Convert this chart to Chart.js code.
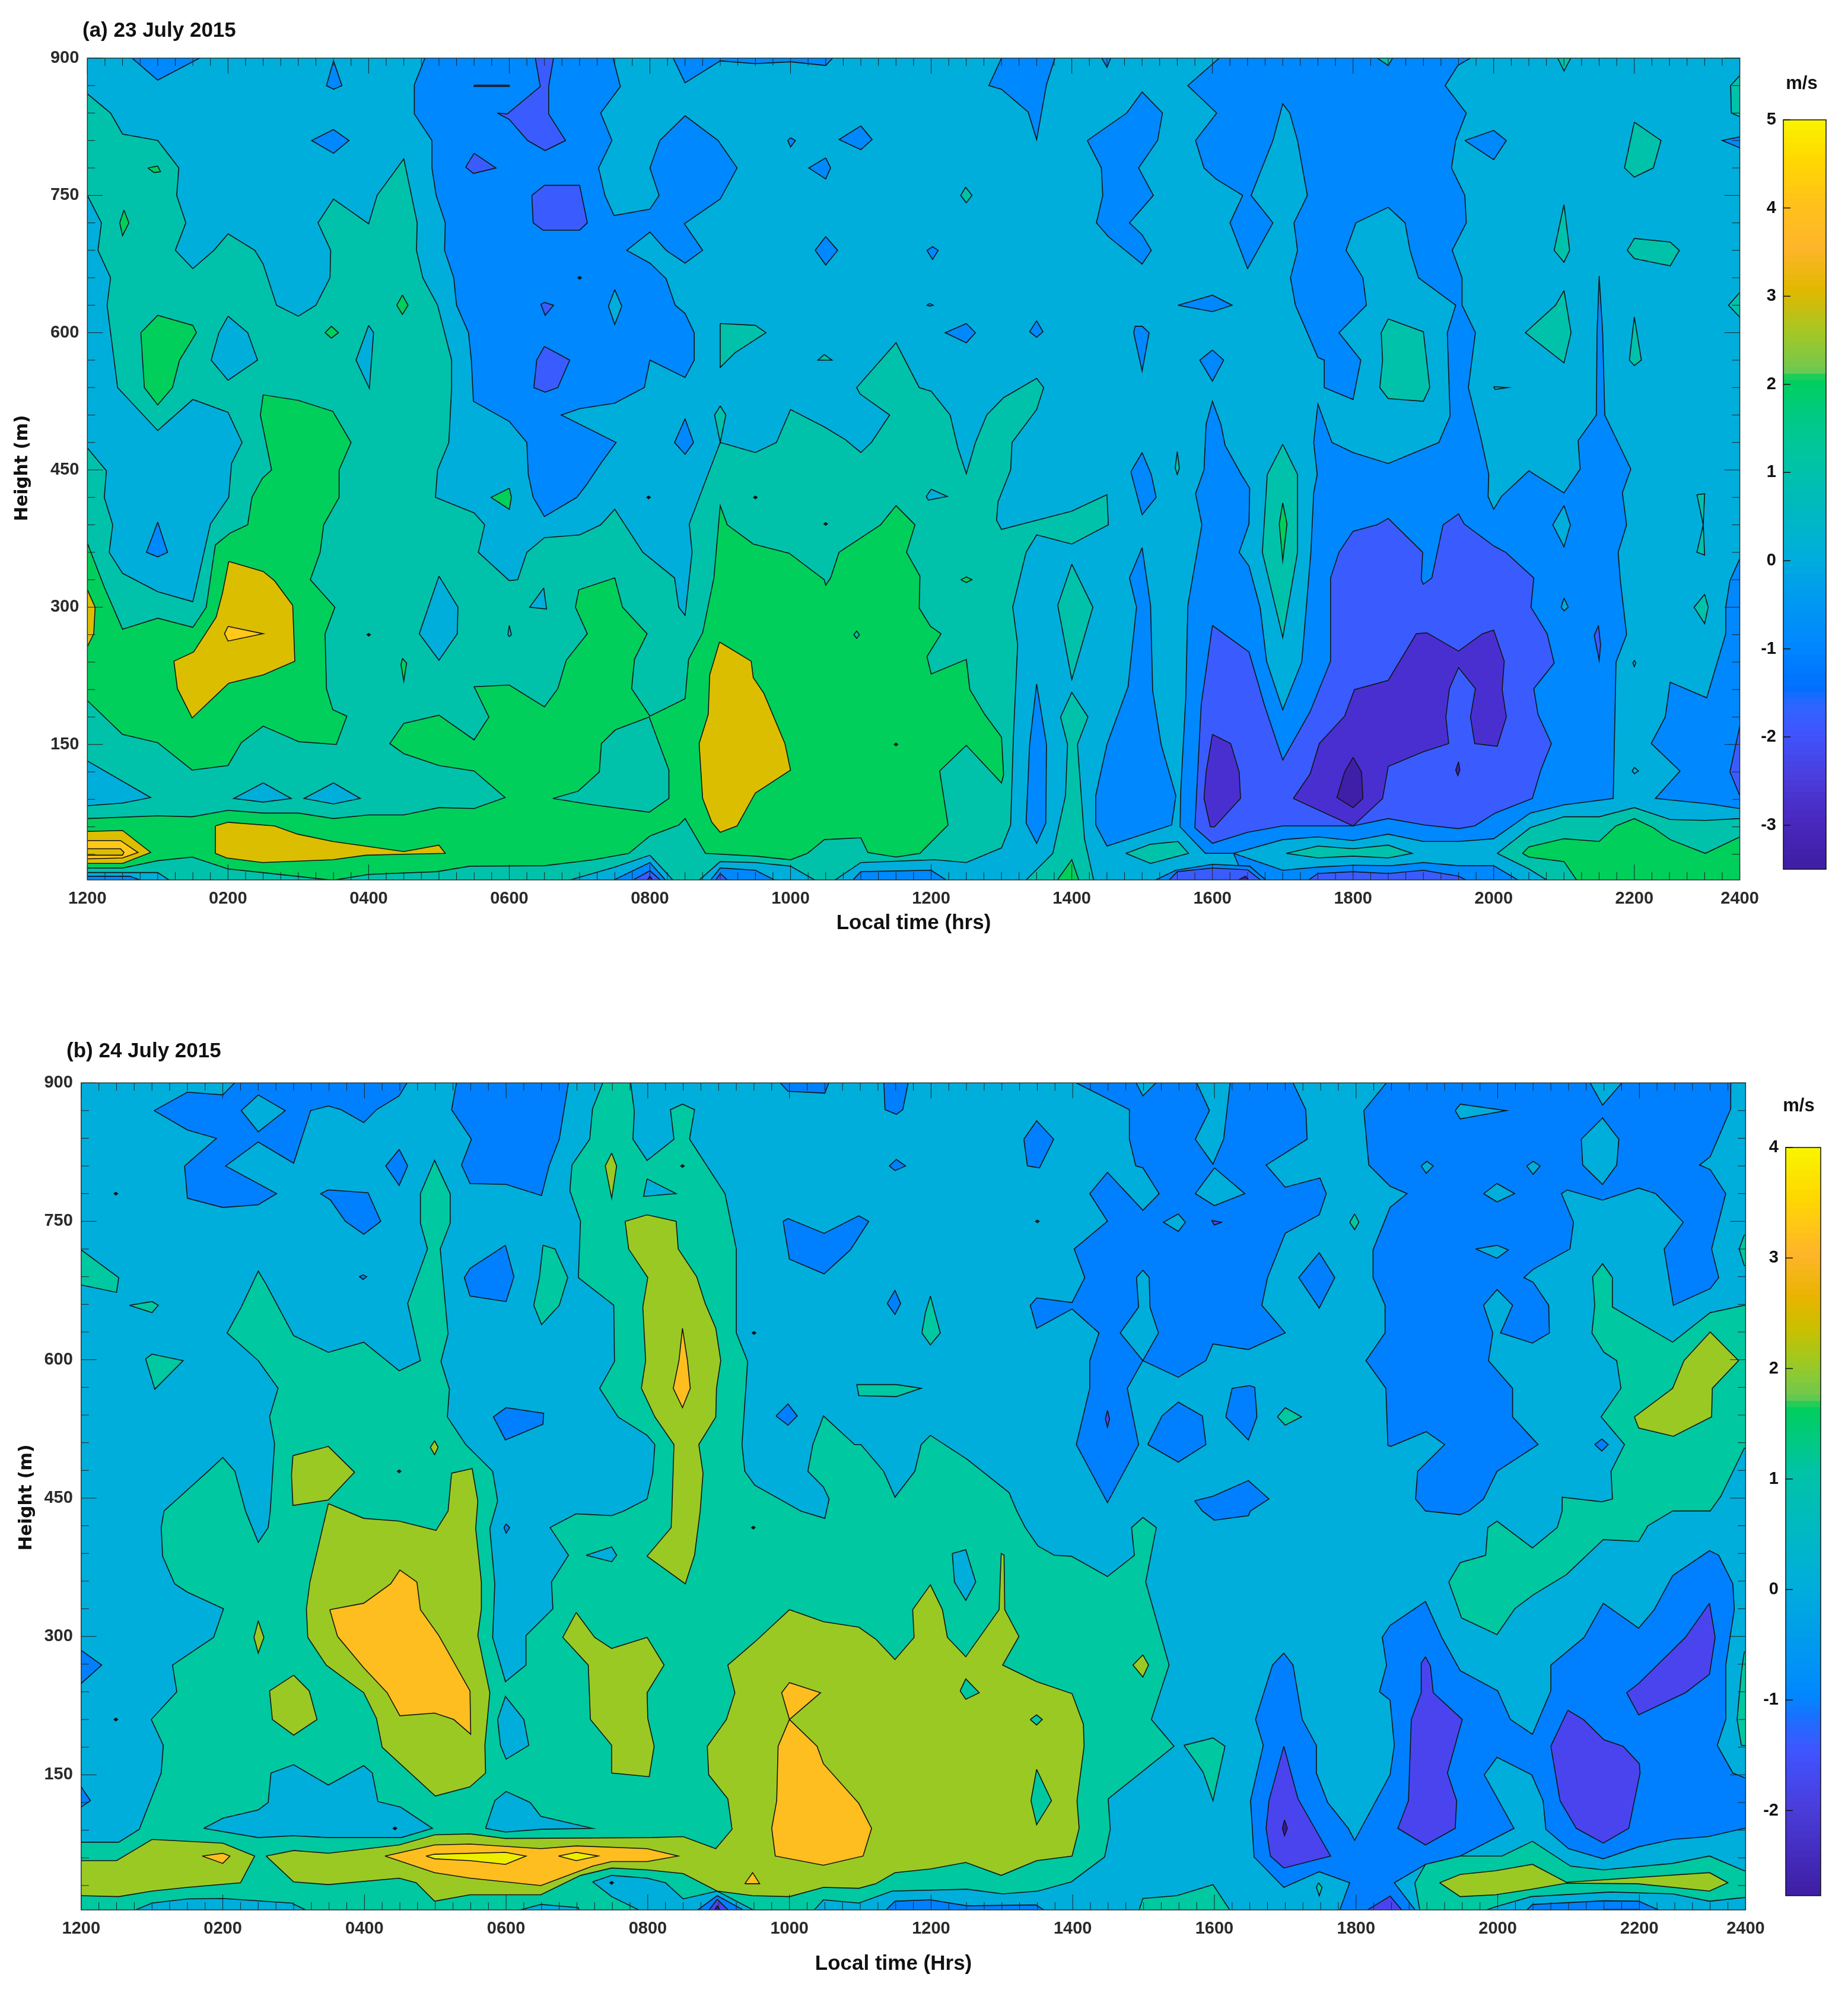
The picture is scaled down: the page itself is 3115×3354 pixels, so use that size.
<!DOCTYPE html>
<html>
<head>
<meta charset="utf-8">
<title>Vertical velocity</title>
<script src="https://cdn.jsdelivr.net/npm/chart.js@4"></script>
<style>
html, body { margin: 0; background: #fff; }
canvas { position: absolute; }
</style>
</head>
<body>
<canvas id="panelA"></canvas>
<canvas id="barA"></canvas>
<canvas id="panelB"></canvas>
<canvas id="barB"></canvas>
<script>
// tick labels
const timeTickHours = [0, 2, 4, 6, 8, 10, 12, 14, 16, 18, 20, 22, 23.5];
const timeTickLabels = ['1200', '0200', '0400', '0600', '0800', '1000', '1200', '1400', '1600', '1800', '2000', '2200', '2400'];
const heightLabelValues = [150, 300, 450, 600, 750, 900];

// the whole plot starts in the 0 to -1 m/s band
const fullArea = [[-1,-20,25,-20,25,920,-1,920]];

// contour outlines, panel (a): flat lists of hours, metres, hours, metres ...
const aTeal = [
[-1,861,0,861,.33,840,.5,817,1,810,1.3,780,1.27,750,1.4,720,1.25,690,1.5,670,1.8,690,2,708,2.38,690,2.5,675,2.69,630,3,618,3.25,630,3.45,660,3.46,690,3.28,720,3.5,746,4,719,4.12,750,4.5,790,4.69,720,4.68,690,4.77,660,4.98,630,5.18,570,5.18,540,5.14,480,4.98,450,4.95,420,5.5,403,5.65,390,5.56,360,6,329,6.12,330,6.25,360,6.5,376,7,379,7.3,390,7.5,407,7.9,360,8.35,332,8.41,300,8.5,291,8.6,360,8.56,391,8.85,450,9,480,9.5,469,9.8,480,10,516,10.48,497,10.78,483,11,469,11.15,480,11.41,510,10.99,533,10.94,540,11.5,589,11.83,540,12,536,12.27,510,12.38,474,12.5,446,12.63,480,12.79,510,13.03,529,13.5,550,13.6,540,13.5,516,13.15,480,13.13,450,12.95,415,12.93,395,13,385,14,405,14.5,423,14.52,390,14,369,13.5,379,13.35,360,13.16,300,13.23,259,13.17,160,13.13,62,13,37,12.5,21,12.05,24,11,21,10.5,-5,10,17,9.5,21,9,22,8.6,-5,8.41,-5,8,29,7.5,16,6.55,-5,1.3,-5,1,10,0,10,-1,10],
[13.26,-5,13.73,31,13.91,94,13.94,150,13.84,180,14,207,14.23,180,14.08,150,14.18,47,14.33,-5]
];
const aCyanInTeal = [
[-1,750,0,750,.2,720,.15,690,.33,660,.28,630,.43,540,1,493,1.5,527,2,513,2.2,480,2.05,457,2.01,420,1.75,391,1.5,306,1,317,.5,337,.31,360,.36,390,.24,420,.27,449,0,474,-1,474],
[2,618,2.28,600,2.42,570,2,548,1.76,570,1.87,600],
[4,608,4.07,600,4.01,539,3.82,570],
[5,334,5.27,300,5.26,271,5,242,4.72,271],
[6.49,321,6.53,298,6.29,300],
[6,280,6.03,270,6,268,5.98,270],
[-1,132,0,132,.9,92,.5,86,0,83,-1,83],
[2.5,108,2.9,91,2.5,87,2.08,91],
[3.5,108,3.88,91,3.5,85,3.08,91],
[12,429,12.23,421,11.96,417,11.93,421]
];
const aGreen = [
[-1,370,0,370,.24,322,.5,276,1,288,1.5,278,1.69,300,1.82,368,2.03,381,2.28,390,2.34,420,2.49,441,2.62,450,2.46,510,2.5,532,3,526,3.49,514,3.75,480,3.58,450,3.58,420,3.36,390,3.31,360,3.17,330,3.52,300,3.38,271,3.4,211,3.49,188,3.69,181,3.54,150,3.01,153,2.5,170,2.19,152,2,127,1.49,122,1,152,.5,161,0,198,-1,198],
[-1,69,0,69,1,72,1.49,71,2,78,2.5,75,3,75,3.5,69,4,73,4.5,73,5,81,5.5,80,5.94,92,5.5,121,5,127,4.5,140,4.3,151,4.5,173,5,182,5.5,155,5.71,180,5.5,213,6,215,6.5,191,6.69,211,6.81,242,7.11,271,6.94,300,6.99,319,7.5,332,7.61,300,7.96,271,7.78,243,7.74,211,8,181,8.5,200,8.55,243,8.75,272,8.91,332,9,411,9.1,390,9.47,369,9.98,359,10.48,330,10.5,324,10.57,332,10.69,360,11.28,390,11.5,411,11.77,390,11.65,360,11.84,334,11.83,299,11.99,279,12.14,271,11.94,246,12,227,12.5,243,12.55,210,12.76,183,13,158,13.03,117,13,108,12.5,149,12.12,121,12.24,62,11.84,31,11.5,27,11.1,32,11,48,10.48,46,10.24,31,10,24,9.5,28,8.79,31,8.5,69,8.41,62,8,50,7.7,31,7.2,24,6.5,17.5,5.44,17,4.97,11,4,8,3.49,1.6,2.49,10,2,14,1.49,27,1,23,.5,15,0,15,-1,15],
[.76,600,1,619,1.5,608,1.55,600,1.31,570,1.21,540,1,521,.81,540],
[.52,734,.59,720,.5,706,.46,720],
[.86,780,1,782,1.04,776,.95,775],
[3.47,607,3.57,600,3.47,594,3.38,600],
[4.48,641,4.56,630,4.48,620,4.4,630],
[6,430,6.03,420,6,407,5.74,420],
[4.48,244,4.54,239,4.5,219,4.46,237],
[12.42,330,12.5,333,12.58,330,12.5,327]
];
const aTealInGreen = [
[6.62,91,6.98,99,7.28,120,7.31,151,7.51,166,7.99,180,8.27,122,8.27,91,7.99,76,7.19,84],
[10.94,274,10.98,270,10.94,266,10.9,270]
];
const aGold = [
[2.01,350,2.5,339,2.66,329,2.92,302,2.95,241,2.5,226,2.01,217,1.86,206,1.49,179,1.28,211,1.23,241,1.51,251,1.83,289,1.92,315],
[-1,319,0,319,.11,300,.09,271,0,257,-1,257],
[1.82,61,2,65,2.66,61,2.99,52,3.49,44,4.5,33,5,40,5.09,31,4.5,30,3.96,29,3.49,24,2.49,21,1.98,26,1.82,31],
[-1,55,0,55,.5,56,.9,32,.5,20,0,20,-1,20],
[8.99,262,9.44,241,9.47,223,9.62,206,9.92,151,10,122,9.5,97,9.24,61,9,54,8.88,65,8.75,91,8.7,151,8.83,183,8.85,226]
];
const aYellow = [
[2,279,2.5,271,2,263,1.95,271],
[-1,45,0,45,.47,45,.72,32,.5,26,0,25,-1,25]
];
const aGoldCore = [
[-1,36,.47,36,.52,32,.5,29,-1,29]
];
const aBlue = [
[.56,905,1,876,1.72,905],
[3.5,897,3.62,870,3.5,866,3.4,870],
[3.5,822,3.72,810,3.5,796,3.19,810],
[1,393,1.14,360,1,355,.84,360],
[4.8,905,4.8,900,4.65,871,4.65,839,4.9,810,4.9,780,4.96,750,5.09,720,5.08,690,5.21,660,5.25,630,5.42,600,5.46,570,5.49,525,6,503,6.25,480,6.27,445,6.34,420,6.5,399,6.96,420,7.1,434,7.3,457,7.52,480,6.74,510,7,517,7.5,523,7.92,540,8,570,8.5,551,8.63,570,8.63,600,8.5,621,8.36,630,8.23,659,8,676,7.67,690,8,710,8.23,690,8.5,676,8.75,690,8.49,719,9,746,9.24,780,8.97,810,8.5,837,8.14,810,8,780,8.13,750,8,735,7.49,728,7.36,750,7.27,780,7.46,810,7.3,840,7.58,869,7.46,905],
[8.3,905,8.5,873,9,897,9.5,894,10,896,10.5,892,10.66,905],
[10,813,10.07,810,10,803,9.96,810],
[11,826,11.16,811,11,800,10.69,811],
[10.5,791,10.57,780,10.5,768,10.26,780],
[10.5,705,10.67,690,10.5,674,10.35,690],
[12.02,694,12.1,690,12.02,680,11.94,690],
[11.98,632,12.03,630,11.98,629,11.94,630],
[12.5,610,12.63,600,12.5,589,12.2,600],
[13.5,613,13.59,601,13.5,595,13.4,601],
[8.5,506,8.62,480,8.5,467,8.35,480],
[13.03,905,12.82,870,13,866,13.38,841,13.5,811,13.64,871,13.78,905],
[14.39,905,14.5,890,14.58,905],
[14.22,810,14.78,840,15,863,15.29,840,15.22,810,14.95,780,15.16,750,14.82,720,15,707,15.13,690,15,675,14.52,705,14.35,720,14.44,750,14.42,780],
[15,365,15.12,302,15.15,209,15.27,150,15.48,94,15.42,62,14.5,39,14.34,62,14.34,94,14.5,150,14.8,213,14.92,300,14.82,332],
[15,469,15.13,445,15.2,420,15,401,14.84,448],
[13.5,216,13.64,150,13.63,64,13.5,42,13.35,64,13.4,150],
[15.51,630,16,641,16.28,630,16,623],
[16,581,16.16,570,16,547,15.82,570],
[14.9,607,15,607,15.1,600,15,558,14.88,600],
[19.59,810,20,821,20.18,810,20,789],
[24,814,23.5,814,23.25,810,23.5,802,24,802],
[24,353,23.5,353,23.36,329,23.3,300,23.3,271,23.03,201,22.51,218,22.44,180,22.24,151,22.65,121,22.3,91,23.07,85,23.5,80,24,80],
[16.17,905,15.65,870,16.06,840,15.76,810,15.88,780,16.05,768,16.43,750,16.25,720,16.5,670,16.86,720,16.55,750,16.86,810,17,850,17.1,840,17.21,810,17.35,750,17.16,720,17.21,690,17.11,660,17.18,630,17.5,573,17.59,570,17.59,540,18,527,18.11,570,17.8,600,18.19,630,18.14,660,17.9,690,18.04,720,18.5,737,18.74,720,18.81,690,18.93,660,19.46,630,19.34,600,19.38,509,19.22,480,18.5,457,18,469,17.7,480,17.5,522,17.44,480,17.49,445,17.44,425,17.4,360,17.27,240,17,188,16.77,241,16.68,299,16.52,345,16.38,360,16.52,391,16.53,430,16.41,445,16.18,477,16.12,500,16,525,15.91,500,15.88,450,15.76,424,15.85,390,15.65,302,15.62,200,15.55,100,15.54,60,15.9,31,16.3,31,17,46,17.5,49,18,45,18.5,52,19,44,19.5,44,20,47,20.52,75,21,84,21.7,91,21.74,240,21.89,270,21.8,330,21.77,360,21.89,390,21.83,425,21.95,451,21.58,510,21.55,600,21.5,662,21.47,600,21.46,510,21.2,482,21.23,451,21,425,20.5,449,20.11,421,20,407,19.92,421,19.93,445,19.82,484,19.64,540,19.74,600,19.55,630,19.55,660,19.41,690,19.61,720,19.59,750,19.4,780,19.46,810,19.61,840,19.31,870,19.49,892,19.78,905],
[16.3,31,17,12.5,17.5,16,18,18,18.54,17.5,19,21,19.5,17.5,20,17.5,20.5,-5,16.5,-5],
[15,-5,15.48,12.5,16,19,16.53,17,16.86,-5],
[7.3,-5,8,21,8.3,-5],
[8.79,-5,9,15,9.5,12.5,9.95,-5],
[10.8,-5,11,11,12,12.5,12.35,-5],
[-1,6,.6,6,1,-5,-1,-5]
];
const aCyanInBlue = [
[7.5,647,7.6,629,7.5,609,7.41,629],
[21,411,21.09,390,21,366,20.84,390],
[21,310,21.06,300,21,296,20.96,300],
[22,242,22.02,239,22,235,21.98,239],
[22,125,22.06,121,22,118,21.97,121]
];
const aTealIslands = [
[12.49,759,12.58,750,12.5,742,12.42,750],
[9,610,9.5,608,9.65,600,9.21,578,9,562],
[10.48,576,10.59,570,10.39,570],
[9,520,9.08,510,9,480,8.92,510],
[20.88,905,21,886,21.13,905],
[22,830,22.38,810,22.27,780,22,770,21.86,780],
[21,740,21.08,690,21,677,20.86,690],
[22,703,22.51,699,22.64,690,22.51,673,22,681,21.9,690],
[21,646,21.1,600,21,567,20.45,600,20.88,630],
[22,617,22.1,570,22,564,21.93,570],
[18.5,615,19,601,19.09,540,19,525,18.5,528,18.38,540,18.42,570,18.4,600],
[18.25,905,18.5,892,18.6,905],
[17,478,17.21,445,17.21,360,17,267,16.71,360,16.78,445],
[24,881,23.5,881,23.37,870,23.38,840,23.5,836,24,836],
[24,644,23.5,644,23.34,630,23.5,617,24,617],
[22.89,423,23,424,22.98,390,23,357,22.89,360,22.98,390],
[23,314,23.05,300,23,282,22.85,300],
[20,541,20.2,540,20.02,538],
[14,347,14.3,300,14,221,13.8,302],
[15.5,470,15.53,452,15.5,445,15.47,452],
[14.77,31,15.12,41,15.51,44,15.66,31,15.12,20],
[17.05,31,17.5,39,18,36,18.5,40,18.84,31,18.5,26,18,28,17.5,26],
[20.05,31,20.52,59,21,71,21.5,71,22,81,22.51,68,23.01,67,23.5,69,24,69,24,-5,20.9,-5,20.5,14]
];
const aGreenIslands = [
[17,414,17.06,391,17,351,16.95,391],
[13.73,-5,14,24,14.13,-5],
[20.41,31,20.5,38,21,47,21.5,44,21.74,61,22,69,22.27,59,22.51,46,23.01,31,23.5,49,24,49,24,-5,21.24,-5,21,22,20.5,27]
];
const aIndigo = [
[5.83,840,5.97,839,6.44,869,6.36,905,6.64,905,6.56,869,6.56,839,6.8,810,6.51,799,6.26,810,6,833],
[5.5,796,5.81,780,5.49,774,5.38,781],
[6.5,761,7,761,7.11,720,7,712,6.48,712,6.34,720,6.32,750],
[6.5,633,6.63,630,6.51,619,6.45,631],
[6.5,585,6.86,570,6.69,540,6.51,535,6.35,540,6.39,570],
[16,280,16.52,251,16.74,193,17,133,17.39,186,17.68,241,17.68,332,17.8,360,18,383,18.34,390,18.5,397,18.99,360,18.97,330,19,325,19.12,332,19.28,390,19.5,402,19.58,391,20,367,20.17,360,20.57,332,20.53,300,20.76,271,20.86,239,20.57,211,20.63,183,20.82,151,20.67,122,20.55,91,20.02,75,19.73,61,19.5,58,19.02,62,18.5,69,18,61,17.5,61,17,61,16.5,54,16,42,15.75,59,15.84,193],
[21.49,280,21.52,259,21.5,242,21.43,269],
[24,170,23.5,170,23.36,120,23.5,94,24,94],
[7.6,-5,8,12,8.25,-5],
[8.88,-5,9,9,9.2,-5],
[15.3,-5,15.5,11,16,15,16.5,13,16.8,-5],
[17.24,-5,17.5,9,18,11,18.5,9,19,12.5,19.5,6,19.78,-5]
];
const aViolet = [
[16,161,16.26,151,16.38,120,16.4,91,16.03,60,15.97,60,15.88,91,15.91,120],
[17.15,91,17.39,118,17.52,151,17.88,181,18.02,210,18.5,220,18.9,271,19.05,272,19.5,252,19.84,271,20,275,20.15,241,20.12,210,20.18,180,20.05,148,19.73,151,19.67,180,19.74,211,19.5,234,19.37,211,19.32,180,19.36,151,19,142,18.5,126,18.42,91,18,61],
[8,6,8.1,-5,7.9,-5]
];
const aVioletSpot = [
[19.5,131,19.52,122,19.49,116,19.46,122],
[18,136,18.12,120,18.14,91,18,81,17.77,92,17.88,120],
[16.2,-5,16.47,6,16.59,-5],
[5.5,870.5,6,870.5,6,869,5.5,869]
];
// very small closed contours, hours and metres of each centre
const aSpecks = [[4,270],[7,660],[7.98,420],[9.5,420],[10.5,391],[11.5,150]];

// contour outlines, panel (b)
const bTeal = [
[-1,-20,-1,77,0,77,.53,77,.82,91,1.13,152,1.16,182,.99,210,1.35,240,1.29,269,1.87,299,2.01,330,1.5,348,1.32,357,1.15,387,1.13,418,1.17,436,1.79,479,2,494,2.17,479,2.32,436,2.5,402,2.64,418,2.67,436,2.73,509,2.66,538,2.78,569,2.5,599,2.06,629,2.26,657,2.5,696,2.61,682,3,626,3.49,608,3.99,619,4.49,588,4.79,599,4.61,661,4.89,720,4.79,748,4.79,780,4.99,816,5.21,780,5.21,748,5.07,720,5.18,628,5.08,598,5.2,568,5.17,538,5.43,508,5.81,479,5.88,447,5.84,436,5.77,417,5.84,357,5.81,299,5.99,251,6.28,269,6.28,301,6.66,330,6.64,359,6.88,388,6.62,418,6.99,433,7.49,431,7.66,436,7.99,449,8.07,477,8.1,508,7.99,518,7.58,538,7.32,569,7.53,598,7.52,659,7.02,689,7.05,750,6.9,783,6.93,811,7.18,839,7.22,872,7.39,905,7.75,905,7.81,869,7.79,839,7.99,816,8.37,839,8.32,871,8.49,877,8.66,871,8.59,839,9.09,780,9.25,720,9.25,629,9.41,598,9.33,508,9.37,479,9.51,464,10.16,436,10.5,428,10.56,449,10.48,462,10.26,479,10.33,508,10.48,539,10.92,508,11.01,508,11.33,479,11.49,451,11.77,479,11.86,508,11.99,518,12.51,492,13.1,456,13.21,436,13.33,418,13.51,398,13.74,388,13.98,387,14.49,365,14.87,388,14.83,418,14.99,429,15.18,418,15.03,359,15.36,269,15.11,210,15.43,181,14.5,124,14.53,91,14.45,61,13.98,34,13.51,24,13.01,21,12.51,26,11.45,24,10.98,11,10.48,14.5,10.25,-5,10,-20],
[14.9,-5,14.99,16,15.47,19,15.98,31,16.29,-5],
[19.31,359,19.47,380,19.83,388,19.86,418,19.99,425,20.49,396,20.84,418,20.91,436,20.91,451,21.47,446,21.62,449,21.6,479,21.79,508,21.46,538,21.74,569,21.68,599,21.5,608,21.33,629,21.37,659,21.34,690,21.48,704,21.62,689,21.62,657,22.47,619,23,651,23.48,659,24,659,24,504,23.48,504,23.15,452,23,436,22.47,436,22.12,420,21.99,403,21.49,405,20.97,367,20.5,345,20.24,330,19.99,302,19.49,320]
];
const bCyanInTeal = [
[12.3,390,12.49,394,12.63,359,12.49,339,12.33,359],
[7.13,388,7.49,397,7.56,388,7.49,381],
[5.88,210,5.99,235,6.25,210,6.32,182,6,167,5.92,182],
[1.73,92,2,103,2.5,112,2.64,120,2.68,152,3,161,3.49,139,3.99,160,4.11,152,4.19,121,4.51,115,4.96,92,4.52,82,3.49,82,2.99,84,2.5,82],
[5.71,92,5.84,122,6,132,6.34,120,6.49,105,7.22,92,6.49,91,5.99,88],
[.5,-5,1,11,1.5,15.5,2,16,2.97,11,3.4,-5],
[5.78,-5,6.49,9.5,7.02,6,7.05,-5],
[7.22,34,7.49,41,7.99,38,8.25,33,8.5,15.5,8.98,24,9.7,-5,8.1,-5,7.49,18]
];
const bOlive = [
[2.99,496,3.49,506,3.86,478,3.49,448,2.99,442,2.97,475],
[3.49,444,3.99,428,4.49,425,5.01,415,5.18,436,5.23,477,5.52,482,5.6,447,5.57,417,5.65,359,5.65,330,5.6,301,5.77,239,5.7,182,5.71,152,5.49,137,5,127,4.25,180,4.17,211,3.99,239,3.46,269,3.2,299,3.18,330,3.23,359],
[4.99,512,5.04,505,4.99,497,4.93,505],
[2.5,317,2.58,299,2.5,282,2.44,299],
[3,258,3.22,241,3.33,210,3,193,2.7,210,2.66,241],
[6.99,326,7.25,299,7.49,287,7.99,299,8.23,269,7.99,239,8,211,8.09,181,8.02,148,7.49,152,7.49,182,7.19,210,7.16,269,6.8,299],
[7.68,750,7.99,757,8.4,750,8.43,720,8.69,690,8.81,661,8.96,634,9.03,599,8.97,569,8.96,538,8.72,508,8.78,477,8.74,436,8.66,388,8.53,357,7.99,387,8.33,418,8.34,436,8.37,508,8.1,538,7.91,569,7.97,599,7.93,657,8,689,7.73,720],
[7.49,824,7.56,810,7.49,775,7.4,810],
[-1,57,0,57,.5,57,1,80,2,76,2.45,62,2.25,33,1.5,28,1,24,.53,18,0,19,-1,19],
[2.61,62,3,68,3.49,65,4.49,74,4.99,85,5.49,86,5.99,81,8.06,82,8.5,83,8.96,70,9.19,91,9.13,124,8.86,150,8.84,181,9.11,210,9.23,239,9.13,269,9.51,294,10,329,10.48,316,10.98,310,11.22,297,11.49,275,11.76,299,11.74,329,11.99,356,12.16,329,12.23,299,12.49,278,12.96,329,12.99,390,13.03,388,13.04,329,13.24,300,13.01,269,13.49,251,13.99,238,14.15,205,14.16,181,14.06,122,14.09,92,13.99,62,13.49,57,12.99,41,12.49,55,11.99,48,11.49,44,11.22,32,10.98,27,10.48,28,10,18,9.48,19,8.98,24,8.5,43,7.99,47,7.49,49,7.05,41,6.49,20,5.49,20,4.99,13,4.73,33,4.49,38,3.49,31,3,34],
[14.99,280,15.07,269,14.99,256,14.85,269],
[21.93,538,22.47,569,22.63,599,23,630,23.4,599,23.03,569,23.02,538,22.48,517,21.99,526]
];
const bTealInOlive = [
[12.41,241,12.49,254,12.68,239,12.49,232],
[13.4,210,13.49,215,13.57,210,13.49,204],
[13.49,156,13.7,122,13.49,96,13.41,122]
];
const bOrange = [
[3.51,329,3.99,336,4.37,357,4.5,372,4.74,359,4.79,329,5.05,301,5.49,241,5.5,194,5.26,210,4.99,217,4.5,214,4.32,239,3.99,266,3.62,300],
[8.49,634,8.56,599,8.6,569,8.49,548,8.36,569,8.44,599],
[4.29,62,4.99,74,5.49,75,6.49,70,6.99,73,7.99,70,8.43,62,7.99,56,7.49,56,7.22,51,6.49,30,5.49,38,4.99,44],
[1.71,62,2,65,2.1,62,2,54],
[9.37,32,9.48,44,9.58,32],
[10,210,10.39,181,10.48,162,10.98,119,11.16,92,11.04,62,10.48,52,9.8,62,9.75,92,9.82,122,9.84,181],
[10,210,9.89,239,10,250,10.44,239]
];
const bYellow = [
[4.87,62,4.99,64,5.99,66,6.28,62,5.99,53,5.49,57,4.99,59],
[6.74,62,6.99,66,7.3,62,6.99,57]
];
const bBlue = [
[-1,285,0,285,.29,269,0,249,-1,249],
[-1,137,0,137,.13,122,0,115,-1,115],
[1.03,870,1.5,890,2,887,2.23,905,4.64,905,4.49,886,4.17,871,3.99,857,3.67,871,3.49,875,3.24,870,3,813,2.5,836,2.04,810,2.76,780,2.5,768,2,765,1.5,775,1.46,810,1.91,840,1.5,849],
[4.49,828,4.61,810,4.49,789,4.3,810],
[3.49,784,4.05,781,4.23,750,3.99,736,3.73,750,3.52,773,3.38,780],
[5.31,905,5.23,871,5.51,839,5.37,811,5.49,791,6,790,6.5,778,6.61,811,6.75,839,6.89,905],
[5.99,724,6.11,690,6,663,5.49,669,5.41,689,5.49,699],
[6,548,6.53,542,6.52,530,5.99,513,5.82,538],
[3.98,692,4.03,690,3.98,687,3.93,690],
[9.81,905,9.98,891,10.5,889,10.58,905],
[11.33,905,11.35,871,11.51,866,11.6,871,11.69,905],
[13.31,839,13.49,859,13.73,839,13.53,808,13.36,810],
[9.91,750,9.98,753,10.49,737,10.98,756,11.12,750,10.86,719,10.49,693,10,709],
[9.81,539,9.98,552,10.11,539,9.98,529],
[11.38,661,11.49,675,11.57,661,11.49,649],
[11.41,810,11.51,817,11.64,810,11.49,805],
[6,422,6.05,418,6,412,5.97,418],
[13.92,905,14.8,871,14.8,839,14.89,810,14.99,808,15.22,780,14.99,762,14.49,803,14.24,780,14.49,750,14.02,720,14.17,689,13.99,662,13.49,667,13.4,659,13.49,634,13.99,655,14.37,629,14.24,599,14.24,569,14.05,508,14.49,445,14.93,508,14.77,569,14.99,599,15.49,581,15.88,599,15.98,617,16.48,611,17,629,16.67,659,16.75,689,17,737,17.48,757,17.58,780,17.49,797,17,787,16.73,811,17.31,839,17.29,871,17.08,905],
[17.48,716,17.7,689,17.48,656,17.19,689],
[15.06,508,15.26,539,15.49,554,15.83,539,15.88,508,15.49,489],
[16.16,538,16.25,569,16.5,572,16.57,570,16.6,538,16.48,513],
[15.72,447,15.98,452,16.48,469,16.77,449,16.51,436,16.48,431,16,426,15.83,436],
[18.48,905,18.11,870,18.18,811,18.48,788,18.72,780,18.48,765,18.24,719,18.24,689,18.41,659,18.41,629,18.14,599,18.42,569,18.45,507,18.49,506,18.99,522,19.25,508,18.87,479,18.84,449,18.98,436,19.47,432,19.59,436,19.8,449,19.99,479,20.57,508,20.21,538,20.21,569,19.87,599,19.93,629,19.8,659,19.99,676,20.21,659,20.04,629,20.49,618,20.73,629,20.72,659,20.5,684,20.37,689,20.5,698,21.02,720,21.07,749,20.9,780,20.98,784,21.48,773,21.99,786,22.23,780,22.62,749,22.35,720,22.48,659,23,677,23.12,689,23.02,720,23.22,780,23,806,22.85,811,23,820,23.29,872,23.29,905],
[21.37,508,21.47,514,21.56,508,21.47,501],
[18.98,338,18.48,312,18.37,299,18.43,269,18.33,240,18.48,231,18.54,182,18.48,150,17.98,79,17.89,92,17.6,120,17.44,152,17.44,182,17.24,210,17.11,269,16.98,282,16.82,269,16.58,210,16.69,182,16.51,122,16.56,61,16.98,28,17.48,45,17.91,33,17.73,-5,18.92,-5,18.54,33,18.98,53,19.47,62,20.23,92,19.81,150,19.99,169,20.48,150,20.64,122,20.68,91,21,70,21.49,59,21.99,72,22.47,80,22.97,83,23.48,92,24,92,24,147,23.48,147,23.32,152,23.1,182,23.22,210,23.22,269,23.34,329,23.32,357,23.12,388,22.99,393,22.47,366,22.21,329,21.99,309,21.49,336,21.22,299,20.75,269,20.75,241,20.49,194,20.18,210,20,241,19.47,263,19.21,299],
[8.55,-5,8.98,19,9.55,-5],
[11.25,-5,11.49,13,11.99,14.5,12.51,8,13.48,9,13.77,-5],
[20.3,-5,20.49,9.5,21.5,13.5,21.99,13,22.53,-5]
];
const bCyanInBlue = [
[2.5,887,2.88,870,2.5,847,2.26,870],
[15.72,905,15.93,870,15.73,839,15.98,812,16.13,839,16.23,905],
[16,808,16.43,780,16,767,15.73,780],
[15.49,758,15.59,749,15.49,739,15.28,749],
[14.99,697,15.08,689,15.09,657,15.21,629,14.99,599,14.67,629,14.93,657,14.9,689],
[14.86,905,14.99,886,15.24,905],
[21.18,839,21.48,862,21.71,839,21.68,811,21.48,790,21.2,811],
[21.27,905,21.48,876,21.81,905],
[19.4,870,19.47,877,20.12,870,19.47,861],
[18.92,810,19,815,19.09,810,18.99,802],
[20.41,810,20.5,815,20.6,810,20.5,801],
[19.8,780,19.99,791,20.24,780,19.99,771],
[19.69,720,19.99,724,20.15,719,19.99,710],
[7.99,796,8.4,780,7.94,777]
];
const bTealIslands = [
[-1,719,0,719,.53,689,.5,673,0,681,-1,681],
[.68,659,1,663,1.09,659,1,651],
[.91,601,1,606,1.44,599,1.04,568],
[10.95,573,11.51,573,11.86,569,11.51,560,10.98,561],
[11.99,669,12.13,629,11.99,616,11.87,629,11.92,651],
[16.89,538,17,548,17.23,538,17,529],
[17.98,758,18.04,749,17.98,741,17.91,749],
[6.52,724,6.69,720,6.87,689,6.75,659,6.5,638,6.39,659,6.47,689],
[15.57,182,15.98,190,16.15,181,15.98,122,15.84,153],
[17.47,33,17.52,28,17.48,19,17.44,28],
[24,735,23.48,735,23.41,720,23.48,702,24,702],
[24,283,23.48,283,23.44,261,23.38,210,23.44,182,24,180],
[18.83,33,18.98,53,19.47,62,20.06,62,20.49,78,21.03,51,21.49,47,22.47,54,22.99,62,23.48,46,24,46,24,16,23.48,17,22.99,13,22.47,21,21.59,23,20.47,18,19.97,7,19.53,-5,18.92,-5]
];
const bOliveLow = [
[19.18,33,19.47,42,19.97,46,20.49,53,20.97,33.5,22.99,44,23.25,33,22.99,24,21.97,32,20.97,32.5,20.47,26,19.97,20,19.47,18]
];
const bIndigo = [
[16.98,181,17.18,124,17.64,62,16.98,49,16.79,62,16.73,92,16.77,122],
[18.98,278,19.05,268,19.09,239,19.5,210,19.29,152,19.42,122,19.4,92,18.98,74,18.59,92,18.74,122,18.78,210,18.92,239,18.92,271],
[20.99,220,21.21,210,21.5,188,21.77,181,22,162,22.01,152,21.85,92,21.49,76,21.11,92,20.88,122,20.75,181],
[22.99,336,23.07,299,22.99,259,22.65,239,21.99,215,21.82,239,21.99,249,22.65,299],
[17.98,-5,18.48,18.5,18.74,-5],
[8.78,-5,8.98,15,9.25,-5],
[15.96,751,16.1,749,16,746],
[14.49,545,14.52,536,14.49,527,14.46,536]
];
const bDark = [
[16.99,101,17.03,92,16.99,84,16.96,92],
[8.88,-5,8.98,8,9.1,-5],
[21.44,-5,21.5,4,22,4,22.05,-5]
];
const bSpecks = [[.49,780],[4.49,479],[.49,210],[4.43,92],[8.49,810],[9.5,629],[9.49,418],[7.49,33],[13.5,750]];

// colour scale stops: value, colour
const aBarValues = [-3.5, -3, -2.5, -2, -1.7, -1.5, -1, -0.5, 0, 1, 1.5, 2, 2.1, 2.5, 3, 3.5, 4, 4.5, 5];
const aBarColors = ['#3f1fa5', '#4a28c0', '#4a3edd', '#3f55ff', '#2f66ff', '#0070ff', '#0088ff', '#0099f0', '#00aedb', '#00c3a8', '#00c98a', '#00cf5c', '#70c850', '#a0c828', '#e0b800', '#ffb52a', '#ffc21a', '#ffd800', '#f8f800'];
const bBarValues = [-2.77, -2, -1.5, -1.2, -1, 0, 1, 1.6, 1.7, 2, 2.3, 2.6, 3, 3.5, 4];
const bBarColors = ['#3f1fa5', '#4a3edd', '#3f55ff', '#1a70ff', '#0088ff', '#00aedb', '#00c3a8', '#00cf5c', '#70c850', '#9bc923', '#c8c000', '#e8b400', '#ffb52a', '#ffd800', '#f8f800'];
const aBarTicks = [-3, -2, -1, 0, 1, 2, 3, 4, 5];
const bBarTicks = [-2, -1, 0, 1, 2, 3, 4];

const aColors = { cyan: '#00aedb', teal: '#00c2ab', green: '#00cf5c', gold: '#dcbe00', bright: '#ffc81a', blue: '#0088ff', indigo: '#3a5cff', violet: '#4a2fd0', dark: '#3f1fa8' };
const bColors = { cyan: '#00aedb', teal: '#00c8a0', olive: '#9bc923', orange: '#ffbe1f', yellow: '#eeee00', blue: '#0080ff', indigo: '#4a44ee', dark: '#3a15a0' };

function speckOutlines(list) {
    return list.map(function (c) {
        return [c[0], c[1] + 1.5, c[0] + 0.025, c[1], c[0], c[1] - 1.5, c[0] - 0.025, c[1]];
    });
}

const aLayers = [
    [fullArea, aColors.cyan],
    [aTeal, aColors.teal], [aCyanInTeal, aColors.cyan], [aGreen, aColors.green], [aTealInGreen, aColors.teal],
    [aGold, aColors.gold], [aYellow, aColors.bright], [aGoldCore, aColors.gold],
    [aBlue, aColors.blue], [aCyanInBlue, aColors.cyan], [aTealIslands, aColors.teal], [aGreenIslands, aColors.green],
    [aIndigo, aColors.indigo], [aViolet, aColors.violet], [aVioletSpot, aColors.dark],
    [speckOutlines(aSpecks), '#141414']
];
const bLayers = [
    [fullArea, bColors.cyan],
    [bTeal, bColors.teal], [bCyanInTeal, bColors.cyan], [bOlive, bColors.olive], [bTealInOlive, bColors.teal],
    [bOrange, bColors.orange], [bYellow, bColors.yellow],
    [bBlue, bColors.blue], [bCyanInBlue, bColors.cyan], [bTealIslands, bColors.teal], [bOliveLow, bColors.olive],
    [bIndigo, bColors.indigo], [bDark, bColors.dark],
    [speckOutlines(bSpecks), '#141414']
];

const tickFont = { family: 'Liberation Sans', size: 29, weight: 'bold' };
const tickColor = '#2a2a2a';

function outlineDatasets(layers) {
    const list = [];
    layers.forEach(function (layer) {
        layer[0].forEach(function (flat) {
            const pts = [];
            for (var i = 0; i < flat.length; i += 2) {
                pts.push({ x: flat[i], y: flat[i + 1] });
            }
            pts.push(pts[0]);
            list.push({ data: pts, areaColor: layer[1], borderColor: '#141414', borderWidth: 1.6, pointRadius: 0, tension: 0, fill: false });
        });
    });
    // the library paints the first dataset last
    list.forEach(function (d, i) { d.order = list.length - i; });
    return list;
}

// fills each closed outline just before the library strokes it
const areaFill = {
    id: 'areaFill',
    beforeDatasetDraw: function (chart, args) {
        const color = chart.data.datasets[args.index].areaColor;
        if (!color) return;
        const a = chart.chartArea;
        const ctx = chart.ctx;
        ctx.save();
        ctx.beginPath();
        ctx.rect(a.left, a.top, a.right - a.left, a.bottom - a.top);
        ctx.clip();
        ctx.beginPath();
        args.meta.data.forEach(function (p, i) {
            if (i === 0) ctx.moveTo(p.x, p.y); else ctx.lineTo(p.x, p.y);
        });
        ctx.closePath();
        ctx.fillStyle = color;
        ctx.fill();
        ctx.restore();
    }
};

// inward ticks on all four sides, and the frame
const frameTicks = {
    id: 'frameTicks',
    afterDatasetsDraw: function (chart) {
        const a = chart.chartArea;
        const ctx = chart.ctx;
        const xs = chart.scales.x;
        const ys = chart.scales.y;
        ctx.save();
        ctx.strokeStyle = '#222';
        ctx.lineWidth = 1;
        ctx.beginPath();
        xs.ticks.forEach(function (t) {
            const len = timeTickHours.indexOf(t.value) >= 0 ? 26 : 13;
            const x = xs.getPixelForValue(t.value);
            ctx.moveTo(x, a.top); ctx.lineTo(x, a.top + len);
            ctx.moveTo(x, a.bottom); ctx.lineTo(x, a.bottom - len);
        });
        ys.ticks.forEach(function (t) {
            const len = heightLabelValues.indexOf(t.value) >= 0 ? 26 : 13;
            const y = ys.getPixelForValue(t.value);
            ctx.moveTo(a.left, y); ctx.lineTo(a.left + len, y);
            ctx.moveTo(a.right, y); ctx.lineTo(a.right - len, y);
        });
        ctx.stroke();
        ctx.strokeStyle = '#1a3a3a';
        ctx.lineWidth = 1.5;
        ctx.strokeRect(a.left, a.top, a.right - a.left, a.bottom - a.top);
        ctx.restore();
    }
};

const pageText = {
    id: 'pageText',
    afterDraw: function (chart, args, opts) {
        const ctx = chart.ctx;
        (opts.items || []).forEach(function (t) {
            ctx.save();
            ctx.translate(t.x, t.y);
            if (t.rotate) ctx.rotate(t.rotate);
            ctx.font = t.font;
            ctx.fillStyle = '#111';
            ctx.textAlign = t.align || 'center';
            ctx.textBaseline = 'middle';
            ctx.fillText(t.text, 0, 0);
            ctx.restore();
        });
    }
};

function makePanel(id, top, height, left, right, plotTop, plotBottom, yMin, layers, items) {
    const canvas = document.getElementById(id);
    canvas.width = 3115;
    canvas.height = height;
    canvas.style.left = '0px';
    canvas.style.top = top + 'px';
    const axisH = 100;
    return new Chart(canvas, {
        type: 'line',
        data: { datasets: outlineDatasets(layers) },
        plugins: [areaFill, frameTicks, pageText],
        options: {
            responsive: false,
            animation: false,
            devicePixelRatio: 1,
            layout: { padding: { left: 0, right: 3115 - right, top: plotTop, bottom: height - plotBottom - axisH } },
            plugins: { legend: { display: false }, tooltip: { enabled: false }, pageText: { items: items } },
            scales: {
                x: {
                    type: 'linear', min: 0, max: 23.5,
                    grid: { display: false, drawTicks: false }, border: { display: false },
                    afterBuildTicks: function (s) {
                        const t = [];
                        for (var i = 0; i <= 94; i++) t.push({ value: i * 0.25 });
                        s.ticks = t;
                    },
                    afterFit: function (s) { s.height = axisH; },
                    ticks: {
                        autoSkip: false, maxRotation: 0, minRotation: 0, padding: 15, font: tickFont, color: tickColor,
                        callback: function (v) {
                            const k = timeTickHours.indexOf(v);
                            return k >= 0 ? timeTickLabels[k] : '';
                        }
                    }
                },
                y: {
                    type: 'linear', min: yMin, max: 900,
                    grid: { display: false, drawTicks: false }, border: { display: false },
                    afterBuildTicks: function (s) {
                        const t = [];
                        for (var v = 30; v <= 900; v += 30) t.push({ value: v });
                        s.ticks = t;
                    },
                    afterFit: function (s) { s.width = left; },
                    ticks: {
                        autoSkip: false, padding: 14, font: tickFont, color: tickColor,
                        callback: function (v) { return heightLabelValues.indexOf(v) >= 0 ? String(v) : ''; }
                    }
                }
            }
        }
    });
}

function barColor(values, colors, v) {
    var i = 0;
    while (i < values.length - 2 && v > values[i + 1]) i++;
    const f = (v - values[i]) / (values[i + 1] - values[i]);
    const c0 = parseInt(colors[i].slice(1), 16);
    const c1 = parseInt(colors[i + 1].slice(1), 16);
    const mix = function (sh) {
        const p = (c0 >> sh) & 255;
        const q = (c1 >> sh) & 255;
        return Math.round(p + (q - p) * f);
    };
    return 'rgb(' + mix(16) + ',' + mix(8) + ',' + mix(0) + ')';
}

const barBorder = {
    id: 'barBorder',
    afterDatasetsDraw: function (chart) {
        const a = chart.chartArea;
        const ctx = chart.ctx;
        const ys = chart.scales.y;
        ctx.save();
        ctx.strokeStyle = '#111';
        ctx.lineWidth = 1.5;
        ctx.beginPath();
        ys.ticks.forEach(function (t) {
            const y = ys.getPixelForValue(t.value);
            ctx.moveTo(a.left, y); ctx.lineTo(a.left + 12, y);
        });
        ctx.stroke();
        ctx.strokeRect(a.left, a.top, a.right - a.left, a.bottom - a.top);
        ctx.restore();
    }
};

function makeBar(id, left, top, right, bottom, values, colors, ticks, items) {
    const canvas = document.getElementById(id);
    const boxLeft = left - 110;
    const boxTop = top - 120;
    canvas.width = right - boxLeft + 30;
    canvas.height = bottom - boxTop + 40;
    canvas.style.left = boxLeft + 'px';
    canvas.style.top = boxTop + 'px';
    const lo = values[0];
    const hi = values[values.length - 1];
    const steps = 120;
    const sets = [];
    for (var i = 0; i < steps; i++) {
        const a = lo + (hi - lo) * i / steps;
        const b = lo + (hi - lo) * (i + 1.3) / steps;
        sets.push({ data: [[a, Math.min(b, hi)]], backgroundColor: barColor(values, colors, a), barPercentage: 1, categoryPercentage: 1, grouped: false });
    }
    return new Chart(canvas, {
        type: 'bar',
        data: { labels: ['m/s'], datasets: sets },
        plugins: [barBorder, pageText],
        options: {
            responsive: false,
            animation: false,
            devicePixelRatio: 1,
            layout: { padding: { left: 0, right: 30, top: 120, bottom: 40 } },
            plugins: { legend: { display: false }, tooltip: { enabled: false }, pageText: { items: items } },
            scales: {
                x: { display: false, grid: { display: false } },
                y: {
                    type: 'linear', min: lo, max: hi,
                    grid: { display: false, drawTicks: false }, border: { display: false },
                    afterBuildTicks: function (s) { s.ticks = ticks.map(function (v) { return { value: v }; }); },
                    afterFit: function (s) { s.width = 110; },
                    ticks: { autoSkip: false, padding: 12, font: tickFont, color: '#111', callback: function (v) { return String(v); } }
                }
            }
        }
    });
}

const titleFont = 'bold 35px "Liberation Sans"';
const axisFont = 'bold 35px "Liberation Sans"';
const heightFont = 'bold 29.5px "DejaVu Sans"';
const unitFont = 'bold 31px "Liberation Sans"';

makePanel('panelA', 0, 1620, 147.3, 2932.6, 98, 1483, 2, aLayers, [
    { text: '(a) 23 July 2015', x: 139, y: 52, font: titleFont, align: 'left' },
    { text: 'Local time (hrs)', x: 1540, y: 1556, font: axisFont },
    { text: 'Height (m)', x: 38, y: 789, font: heightFont, rotate: -Math.PI / 2 }
]);
makePanel('panelB', 1680, 1674, 136.8, 2942.4, 145.2, 1539, 3.6, bLayers, [
    { text: '(b) 24 July 2015', x: 112, y: 92, font: titleFont, align: 'left' },
    { text: 'Local time (Hrs)', x: 1506, y: 1630, font: axisFont },
    { text: 'Height (m)', x: 45, y: 844, font: heightFont, rotate: -Math.PI / 2 }
]);
makeBar('barA', 3006, 202, 3078, 1465, aBarValues, aBarColors, aBarTicks, [
    { text: 'm/s', x: 141, y: 59, font: unitFont }
]);
makeBar('barB', 3010, 1934, 3069, 3195, bBarValues, bBarColors, bBarTicks, [
    { text: 'm/s', x: 132, y: 50, font: unitFont }
]);
</script>
</body>
</html>
